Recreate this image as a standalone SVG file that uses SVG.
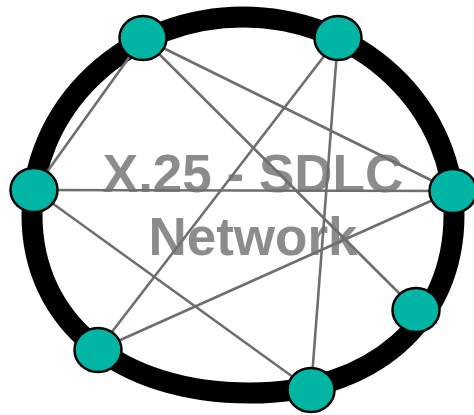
<svg xmlns="http://www.w3.org/2000/svg" width="474" height="415" viewBox="0 0 474 415">
<style>
.ring{fill:none;stroke:#000;stroke-width:21}
.lbl{font-family:"Liberation Sans",Arial,sans-serif;font-weight:bold;font-size:53px;fill:#8c8c8c;text-anchor:middle}
.edge{stroke:#6e6e6e;stroke-width:2.6;fill:none}
.node{fill:#00b5a4;stroke:#000;stroke-width:2.5}
</style>
<rect width="474" height="415" fill="#fff"/>
<path id="ring" class="ring" d="M32,215 A211,198 0 0 1 454,215 C454,321.8 372.4,393 250,393 C119.2,393 32,321.8 32,215 Z"/>
<g id="title">
<text class="lbl" x="253" y="192">X.25 - SDLC</text>
<text class="lbl" x="253" y="255">Network</text>
</g>
<g id="connectors">
<line class="edge" x1="143" y1="38" x2="34" y2="190"/>
<line class="edge" x1="143" y1="38" x2="416" y2="310"/>
<line class="edge" x1="143" y1="38" x2="453" y2="191"/>
<line class="edge" x1="338" y1="38" x2="98" y2="350"/>
<line class="edge" x1="338" y1="38" x2="311" y2="390"/>
<line class="edge" x1="34" y1="190" x2="453" y2="191"/>
<line class="edge" x1="34" y1="190" x2="311" y2="390"/>
<line class="edge" x1="98" y1="350" x2="453" y2="191"/>
</g>
<g id="nodeA"><ellipse class="node" cx="143" cy="38" rx="23.5" ry="22"/></g>
<g id="nodeB"><ellipse class="node" cx="338" cy="38" rx="23.5" ry="22"/></g>
<g id="nodeC"><ellipse class="node" cx="34" cy="190" rx="23.5" ry="22"/></g>
<g id="nodeD"><ellipse class="node" cx="453" cy="191" rx="23.5" ry="22"/></g>
<g id="nodeE"><ellipse class="node" cx="98" cy="350" rx="23.5" ry="22"/></g>
<g id="nodeF"><ellipse class="node" cx="416" cy="310" rx="23.5" ry="22"/></g>
<g id="nodeG"><ellipse class="node" cx="311" cy="390" rx="23.5" ry="22"/></g>
</svg>
